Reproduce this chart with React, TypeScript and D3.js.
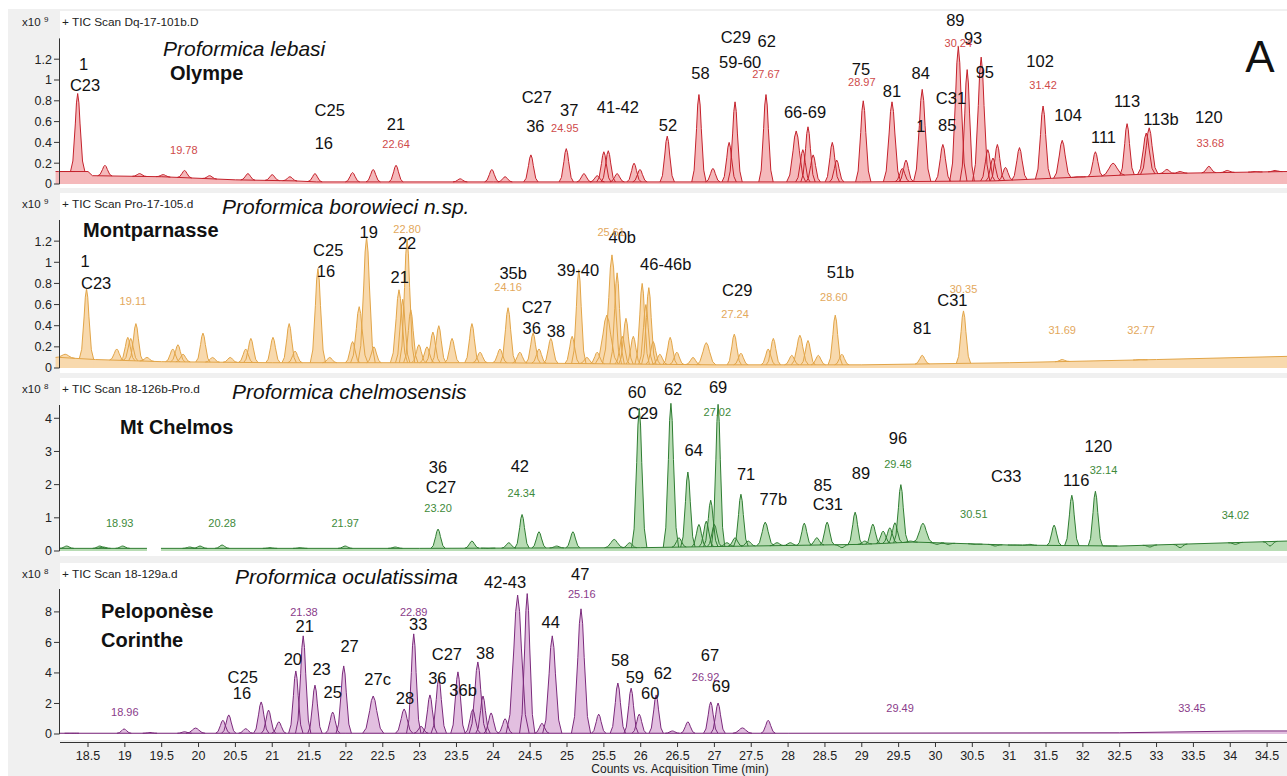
import React from 'react';
import * as d3 from 'd3';

// time axis (min)
const T_MIN = 18.12;
const T_MAX = 34.77;
const xTicks = [18.5, 19, 19.5, 20, 20.5, 21, 21.5, 22, 22.5, 23, 23.5, 24, 24.5, 25, 25.5, 26, 26.5, 27, 27.5, 28, 28.5, 29, 29.5, 30, 30.5, 31, 31.5, 32, 32.5, 33, 33.5, 34, 34.5];

// peaks: [retention time, apex height, optional half-width]
const lebasiPeaks: number[][] = [
  [18.19, 0.12, 0.1], [18.36, 0.87], [18.73, 0.18], [19.2, 0.1], [19.52, 0.09], [19.81, 0.13], [20.15, 0.08],
  [20.67, 0.1], [21.0, 0.09], [21.24, 0.07], [21.58, 0.1], [22.09, 0.11], [22.37, 0.14], [22.68, 0.18],
  [23.55, 0.05], [23.98, 0.14], [24.16, 0.07], [24.51, 0.28], [24.99, 0.34], [25.23, 0.1], [25.41, 0.08],
  [25.5, 0.31], [25.56, 0.32], [25.68, 0.1], [25.91, 0.2], [25.99, 0.14], [26.36, 0.46], [26.79, 0.86],
  [26.98, 0.15], [27.2, 0.4], [27.28, 0.79], [27.7, 0.86], [28.11, 0.51, 0.1], [28.2, 0.33], [28.27, 0.55],
  [28.34, 0.28], [28.6, 0.4], [28.66, 0.23], [29.02, 0.8, 0.08], [29.41, 0.79, 0.09], [29.55, 0.15], [29.6, 0.23],
  [29.82, 0.91, 0.09], [30.1, 0.38, 0.08], [30.31, 1.32, 0.09], [30.43, 1.1], [30.62, 1.22, 0.09], [30.71, 0.33],
  [30.78, 0.25], [30.84, 0.38], [30.95, 0.16], [31.14, 0.35, 0.08], [31.46, 0.75, 0.08], [31.72, 0.42, 0.09],
  [31.94, 0.07], [32.17, 0.31], [32.41, 0.2, 0.12], [32.6, 0.58], [32.86, 0.49, 0.09], [32.9, 0.54, 0.09],
  [33.14, 0.14], [33.32, 0.12], [33.71, 0.17], [33.96, 0.13], [34.34, 0.12], [34.61, 0.13],
];
const lebasiBaseT = [18.12, 18.5, 18.56, 19.5, 20.5, 21.3, 21.6, 24, 29, 30.8, 33, 34.77];
const lebasiBaseV = [0.12, 0.12, 0.08, 0.07, 0.04, 0.03, 0.02, 0.02, 0.02, 0.03, 0.1, 0.12];
const lebasiLabels: [string, number, number][] = [
  ['1', 18.44, 1.15], ['C23', 18.46, 0.95], ['C25', 21.78, 0.71], ['16', 21.7, 0.39], ['21', 22.68, 0.58],
  ['C27', 24.59, 0.84], ['36', 24.57, 0.56], ['37', 25.03, 0.71], ['41-42', 25.69, 0.74], ['52', 26.37, 0.57],
  ['58', 26.81, 1.07], ['C29', 27.29, 1.41], ['62', 27.71, 1.37], ['59-60', 27.35, 1.17], ['66-69', 28.23, 0.69],
  ['75', 28.99, 1.11], ['81', 29.41, 0.89], ['84', 29.8, 1.07], ['1', 29.8, 0.56], ['85', 30.16, 0.57],
  ['C31', 30.21, 0.83], ['89', 30.27, 1.58], ['93', 30.51, 1.4], ['95', 30.67, 1.08], ['102', 31.42, 1.18],
  ['104', 31.8, 0.66], ['111', 32.28, 0.45], ['113', 32.6, 0.8], ['113b', 33.06, 0.62], ['120', 33.71, 0.64],
];
const lebasiRT: [string, number, number][] = [
  ['19.78', 19.8, 0.33], ['22.64', 22.68, 0.38], ['24.95', 24.97, 0.54], ['27.67', 27.7, 1.06],
  ['28.97', 29.0, 0.98], ['30.24', 30.31, 1.36], ['31.42', 31.46, 0.95], ['33.68', 33.73, 0.39],
];

const borowieciPeaks: number[][] = [
  [18.19, 0.13, 0.1], [18.48, 0.75], [18.89, 0.18], [19.04, 0.29], [19.08, 0.28], [19.15, 0.42], [19.3, 0.1],
  [19.65, 0.18], [19.72, 0.22], [19.79, 0.13], [20.06, 0.33], [20.19, 0.1], [20.43, 0.1], [20.64, 0.18],
  [20.71, 0.28], [21.01, 0.29], [21.23, 0.42], [21.31, 0.16], [21.62, 0.94, 0.08], [21.78, 0.1], [22.09, 0.25],
  [22.18, 0.58, 0.09], [22.28, 1.24, 0.09], [22.38, 0.2], [22.72, 0.74, 0.09], [22.77, 0.65], [22.83, 1.22, 0.08],
  [22.88, 0.55], [22.99, 0.22], [23.1, 0.2], [23.18, 0.34], [23.26, 0.4], [23.44, 0.28], [23.71, 0.42],
  [23.82, 0.15], [24.09, 0.18], [24.2, 0.57, 0.08], [24.36, 0.15], [24.54, 0.33], [24.62, 0.18], [24.78, 0.28],
  [25.07, 0.3], [25.16, 0.93], [25.27, 0.1], [25.41, 0.15], [25.54, 0.5, 0.12], [25.61, 1.07, 0.1],
  [25.68, 0.9], [25.75, 0.3], [25.8, 0.47], [25.9, 0.3], [26.02, 0.8], [26.07, 0.6], [26.11, 0.76],
  [26.17, 0.25], [26.26, 0.13], [26.4, 0.29], [26.49, 0.15], [26.71, 0.1], [26.89, 0.24, 0.1], [27.27, 0.32],
  [27.36, 0.14], [27.73, 0.18], [27.8, 0.28], [28.05, 0.12], [28.16, 0.31, 0.09], [28.27, 0.26], [28.41, 0.12],
  [28.64, 0.5], [28.73, 0.13], [29.82, 0.12], [30.38, 0.54], [31.72, 0.08], [32.78, 0.08],
];
const borowieciBaseT = [18.12, 18.6, 19.5, 21, 24, 25.5, 27, 29, 31, 33, 34.77];
const borowieciBaseV = [0.1, 0.08, 0.06, 0.05, 0.05, 0.04, 0.03, 0.03, 0.05, 0.08, 0.11];
const borowieciLabels: [string, number, number][] = [
  ['1', 18.46, 1.01], ['C23', 18.61, 0.8], ['C25', 21.76, 1.12], ['16', 21.73, 0.92], ['19', 22.31, 1.29],
  ['22', 22.83, 1.18], ['21', 22.73, 0.86], ['35b', 24.27, 0.9], ['C27', 24.59, 0.58], ['36', 24.52, 0.38],
  ['38', 24.85, 0.35], ['39-40', 25.15, 0.93], ['40b', 25.75, 1.24], ['46-46b', 26.34, 0.98], ['C29', 27.31, 0.74],
  ['51b', 28.71, 0.91], ['81', 29.82, 0.38], ['C31', 30.23, 0.64],
];
const borowieciRT: [string, number, number][] = [
  ['19.11', 19.11, 0.63], ['22.80', 22.83, 1.31], ['24.16', 24.2, 0.77], ['25.61', 25.6, 1.29],
  ['27.24', 27.28, 0.51], ['28.60', 28.62, 0.67], ['30.35', 30.38, 0.75], ['31.69', 31.72, 0.36], ['32.77', 32.79, 0.36],
];

const chelmosPeaks: number[][] = [
  [18.21, 0.15], [18.66, 0.15], [18.71, 0.12], [18.97, 0.15], [19.88, 0.12], [20.02, 0.15], [20.32, 0.18],
  [20.97, 0.1], [21.38, 0.1], [21.99, 0.15], [22.67, 0.12], [23.25, 0.66], [23.71, 0.3], [23.93, 0.08],
  [24.21, 0.25], [24.39, 1.1], [24.62, 0.58], [24.86, 0.15], [25.08, 0.58], [25.64, 0.35, 0.1], [25.85, 0.25],
  [25.98, 4.3, 0.08], [26.41, 4.45, 0.08], [26.52, 0.4], [26.64, 2.38], [26.79, 0.8], [26.89, 0.9], [26.95, 1.53],
  [27.0, 0.8], [27.05, 4.42, 0.07], [27.17, 0.25], [27.28, 0.4], [27.36, 1.71], [27.46, 0.3], [27.69, 0.87, 0.09],
  [27.85, 0.25], [28.03, 0.25], [28.22, 0.84], [28.39, 0.4], [28.53, 0.87], [28.73, 0.1], [28.91, 1.17],
  [29.04, 0.3], [29.15, 0.81], [29.29, 0.6], [29.38, 0.7], [29.45, 0.85], [29.53, 2.0], [29.66, 0.3],
  [29.83, 0.84, 0.1], [30.02, 0.2], [30.17, 0.2], [30.54, 0.2], [30.81, 0.15], [31.08, 0.18], [31.28, 0.2],
  [31.61, 0.78], [31.85, 1.68], [32.17, 1.8], [32.37, 0.15], [32.91, 0.12], [33.32, 0.1], [34.07, 0.2], [34.54, 0.15],
];
const chelmosBaseT = [18.12, 19.3, 19.31, 19.48, 19.49, 23, 26, 29, 29.7, 31, 32.5, 34.77];
const chelmosBaseV = [0.08, 0.08, NaN, NaN, 0.08, 0.08, 0.1, 0.2, 0.27, 0.18, 0.15, 0.3];
const chelmosLabels: [string, number, number][] = [
  ['36', 23.25, 2.53], ['C27', 23.29, 1.92], ['42', 24.36, 2.56], ['60', 25.95, 4.78], ['C29', 26.03, 4.15],
  ['62', 26.44, 4.87], ['69', 27.05, 4.93], ['64', 26.72, 3.04], ['71', 27.43, 2.32], ['77b', 27.8, 1.56],
  ['85', 28.47, 1.98], ['C31', 28.54, 1.41], ['89', 28.99, 2.35], ['96', 29.49, 3.4], ['C33', 30.96, 2.26],
  ['116', 31.91, 2.14], ['120', 32.21, 3.16],
];
const chelmosRT: [string, number, number][] = [
  ['18.93', 18.93, 0.84], ['20.28', 20.32, 0.84], ['21.97', 21.99, 0.84], ['23.20', 23.25, 1.29],
  ['24.34', 24.38, 1.74], ['27.02', 27.04, 4.18], ['29.48', 29.49, 2.62], ['30.51', 30.52, 1.11],
  ['32.14', 32.28, 2.44], ['34.02', 34.07, 1.08],
];

const oculatPeaks: number[][] = [
  [18.28, 0.05], [18.99, 0.33], [19.34, 0.1], [19.81, 0.15], [19.96, 0.39, 0.1], [20.33, 0.9], [20.41, 1.25],
  [20.64, 0.35], [20.85, 2.1, 0.08], [20.95, 1.57], [21.09, 0.8], [21.32, 4.13], [21.42, 6.43, 0.08], [21.58, 3.2],
  [21.82, 1.44], [21.97, 4.46, 0.08], [22.37, 2.49, 0.11], [22.79, 1.64, 0.09], [22.92, 6.56], [23.02, 0.5],
  [23.14, 2.56], [23.26, 3.67, 0.08], [23.52, 4.07], [23.72, 1.6, 0.08], [23.79, 4.72, 0.09], [23.86, 2.49],
  [23.97, 1.38], [24.16, 1.0], [24.33, 9.1, 0.12], [24.46, 9.2, 0.08], [24.66, 0.7], [24.8, 6.43, 0.1],
  [25.19, 8.2, 0.1], [25.43, 1.3], [25.69, 3.34, 0.08], [25.87, 3.0], [25.98, 1.3], [26.21, 2.56],
  [26.43, 0.2], [26.64, 0.8], [26.95, 2.1], [27.05, 2.03], [27.38, 0.4, 0.1], [27.73, 0.9],
];
const oculatBaseT = [18.12, 22, 28, 32.5, 34.2, 34.77];
const oculatBaseV = [0.05, 0.05, 0.05, 0.08, 0.2, 0.2];
const oculatLabels: [string, number, number][] = [
  ['C25', 20.6, 3.74], ['16', 20.59, 2.69], ['20', 21.28, 4.92], ['21', 21.44, 7.08], ['23', 21.67, 4.26],
  ['25', 21.82, 2.75], ['27', 22.05, 5.77], ['27c', 22.43, 3.61], ['28', 22.8, 2.36], ['33', 22.98, 7.21],
  ['C27', 23.37, 5.25], ['36', 23.24, 3.67], ['36b', 23.59, 2.89], ['38', 23.89, 5.31], ['42-43', 24.16, 9.97],
  ['47', 25.18, 10.49], ['44', 24.78, 7.34], ['58', 25.72, 4.85], ['59', 25.92, 3.74], ['60', 26.13, 2.69],
  ['62', 26.3, 4.0], ['67', 26.94, 5.18], ['69', 27.09, 3.15],
];
const oculatRT: [string, number, number][] = [
  ['18.96', 19.0, 1.44], ['21.38', 21.43, 8.0], ['22.89', 22.92, 8.0], ['25.16', 25.2, 9.18],
  ['26.92', 26.88, 3.75], ['29.49', 29.52, 1.7], ['33.45', 33.48, 1.7],
];

const lebasiTicks = [0, 0.2, 0.4, 0.6, 0.8, 1, 1.2];
const chelmosTicks = [0, 1, 2, 3, 4];
const oculatTicks = [0, 2, 4, 6, 8];

const FONT = '"Liberation Sans", Arial, Helvetica, sans-serif';

// gaussian-like glyph for one peak (offsets in half-width units)
const GLYPH_DX = [-1, -0.67, -0.33, -0.17, 0, 0.17, 0.33, 0.67, 1];
const GLYPH_F = [0, 0.135, 0.61, 0.88, 1, 0.88, 0.61, 0.135, 0];
const DEFAULT_W = 0.075;
const W_SCALE = 1.3;

const x = d3.scaleLinear().domain([T_MIN, T_MAX]).range([60, 1287]);

const panels = [
  {
    peaks: lebasiPeaks, baseT: lebasiBaseT, baseV: lebasiBaseV, labels: lebasiLabels, rt: lebasiRT,
    ticks: lebasiTicks, yMax: 1.4, y0: 184, y1: 38.4, band: [11, 188], exp: '9',
    scan: '+ TIC Scan Dq-17-101b.D', species: 'Proformica lebasi', spX: 163, spY: 56,
    place: ['Olympe'], placeX: 170, placeY: [80],
    stroke: '#c4222c', fill: '#f5b9bb', rtColor: '#cf4a4a',
  },
  {
    peaks: borowieciPeaks, baseT: borowieciBaseT, baseV: borowieciBaseV, labels: borowieciLabels, rt: borowieciRT,
    ticks: lebasiTicks, yMax: 1.4, y0: 368, y1: 220, band: [193, 373], exp: '9',
    scan: '+ TIC Scan Pro-17-105.d', species: 'Proformica borowieci n.sp.', spX: 222, spY: 214,
    place: ['Montparnasse'], placeX: 83, placeY: [237],
    stroke: '#e2a548', fill: '#f8d9ad', rtColor: '#e3a85c',
  },
  {
    peaks: chelmosPeaks, baseT: chelmosBaseT, baseV: chelmosBaseV, labels: chelmosLabels, rt: chelmosRT,
    ticks: chelmosTicks, yMax: 4.4, y0: 551, y1: 405, band: [378, 556], exp: '8',
    scan: '+ TIC Scan 18-126b-Pro.d', species: 'Proformica chelmosensis', spX: 232, spY: 399,
    place: ['Mt Chelmos'], placeX: 120, placeY: [434],
    stroke: '#2f7d32', fill: '#b8dcb4', rtColor: '#3e8a3a',
  },
  {
    peaks: oculatPeaks, baseT: oculatBaseT, baseV: oculatBaseV, labels: oculatLabels, rt: oculatRT,
    ticks: oculatTicks, yMax: 9.5, y0: 734, y1: 589, band: [563, 740], exp: '8',
    scan: '+ TIC Scan 18-129a.d', species: 'Proformica oculatissima', spX: 235, spY: 584,
    place: ['Peloponèse', 'Corinthe'], placeX: 101, placeY: [618, 647],
    stroke: '#7b2a7c', fill: '#e2bfe0', rtColor: '#8a3c8a',
  },
];

function Panel({ p }: { p: typeof panels[number] }) {
  const y = d3.scaleLinear().domain([0, p.yMax]).range([p.y0, p.y1]);
  const baseAt = (t: number) => {
    const i = d3.bisectLeft(p.baseT, t);
    if (i <= 0) return p.baseV[0];
    if (i >= p.baseT.length) return p.baseV[p.baseV.length - 1];
    const a = p.baseT[i - 1], b = p.baseT[i];
    const va = p.baseV[i - 1], vb = p.baseV[i];
    const v = va + (vb - va) * ((t - a) / (b - a));
    return isNaN(v) ? 0 : v;
  };
  const baseData = p.baseT.map((t, i) => ({ t, v: p.baseV[i] }));
  const baseArea = d3.area<{ t: number; v: number }>()
    .defined(d => !isNaN(d.v))
    .x(d => x(d.t)).y0(y(0)).y1(d => y(d.v));
  const baseLine = d3.line<{ t: number; v: number }>()
    .defined(d => !isNaN(d.v))
    .x(d => x(d.t)).y(d => y(d.v));

  const glyphs = p.peaks.map(pk => {
    const [t, h] = pk;
    const w = (pk[2] ?? DEFAULT_W) * W_SCALE;
    return GLYPH_DX.map((dx, i) => {
      const tt = t + dx * w;
      const b = baseAt(tt);
      return { t: tt, v: b + (h - b) * GLYPH_F[i] };
    });
  });
  const area = d3.area<{ t: number; v: number }>().x(d => x(d.t)).y0(y(0)).y1(d => y(d.v));
  const line = d3.line<{ t: number; v: number }>().x(d => x(d.t)).y(d => y(d.v));

  return (
    <g>
      <rect x={60} y={p.band[0]} width={1227} height={p.band[1] - p.band[0]} fill="#ffffff" />
      <path d={baseArea(baseData) || ''} fill={p.fill} />
      {glyphs.map((g, i) => <path key={'f' + i} d={area(g) || ''} fill={p.fill} />)}
      <path d={baseLine(baseData) || ''} fill="none" stroke={p.stroke} strokeWidth={1} />
      {glyphs.map((g, i) => <path key={'s' + i} d={line(g) || ''} fill="none" stroke={p.stroke} strokeWidth={1} />)}

      {/* y axis */}
      <line x1={59.5} x2={59.5} y1={p.y1} y2={p.y0} stroke="#333" />
      {p.ticks.map(v => (
        <g key={v}>
          <line x1={54} x2={59.5} y1={y(v)} y2={y(v)} stroke="#333" />
          <text x={52} y={y(v)} dy="0.35em" textAnchor="end" fontSize={12.5} fill="#222">{d3.format('~g')(v)}</text>
        </g>
      ))}

      {/* header */}
      <text x={22} y={p.band[0] + 15} fontSize={11.5} fill="#222">x10</text>
      <text x={44} y={p.band[0] + 11} fontSize={8} fill="#222">{p.exp}</text>
      <text x={62} y={p.band[0] + 15} fontSize={11.8} fill="#222">{p.scan}</text>
      <text x={p.spX} y={p.spY} fontSize={21} fontStyle="italic" fill="#111">{p.species}</text>
      {p.place.map((s, i) => (
        <text key={s} x={p.placeX} y={p.placeY[i]} fontSize={20} fontWeight="bold" fill="#111">{s}</text>
      ))}

      {p.labels.map(([s, t, v], i) => (
        <text key={'l' + i} x={x(t)} y={y(v)} dy="0.36em" textAnchor="middle" fontSize={16.5} fill="#111">{s}</text>
      ))}
      {p.rt.map(([s, t, v], i) => (
        <text key={'r' + i} x={x(t)} y={y(v)} dy="0.36em" textAnchor="middle" fontSize={11} fill={p.rtColor}>{s}</text>
      ))}
    </g>
  );
}

export default function App() {
  return (
    <div style={{ position: 'absolute', left: 0, top: 0 }}>
      <svg width={1287} height={776} style={{ display: 'block', fontFamily: FONT }}>
        <rect x={0} y={0} width={1287} height={776} fill="#ffffff" />
        <rect x={8} y={9} width={1279} height={767} fill="#f0f0f0" />
        {panels.map((p, i) => <Panel key={i} p={p} />)}

        {/* x axis */}
        <line x1={60} x2={1287} y1={742.5} y2={742.5} stroke="#333" />
        {xTicks.map(t => (
          <g key={t}>
            <line x1={x(t)} x2={x(t)} y1={742.5} y2={747} stroke="#333" />
            <text x={x(t)} y={756} dy="0.35em" textAnchor="middle" fontSize={12.5} fill="#222">{t}</text>
          </g>
        ))}
        <text x={680} y={769} dy="0.35em" textAnchor="middle" fontSize={12} fill="#222">Counts vs. Acquisition Time (min)</text>

        <text x={1260} y={72} textAnchor="middle" fontSize={44} fill="#111">A</text>
      </svg>
    </div>
  );
}
